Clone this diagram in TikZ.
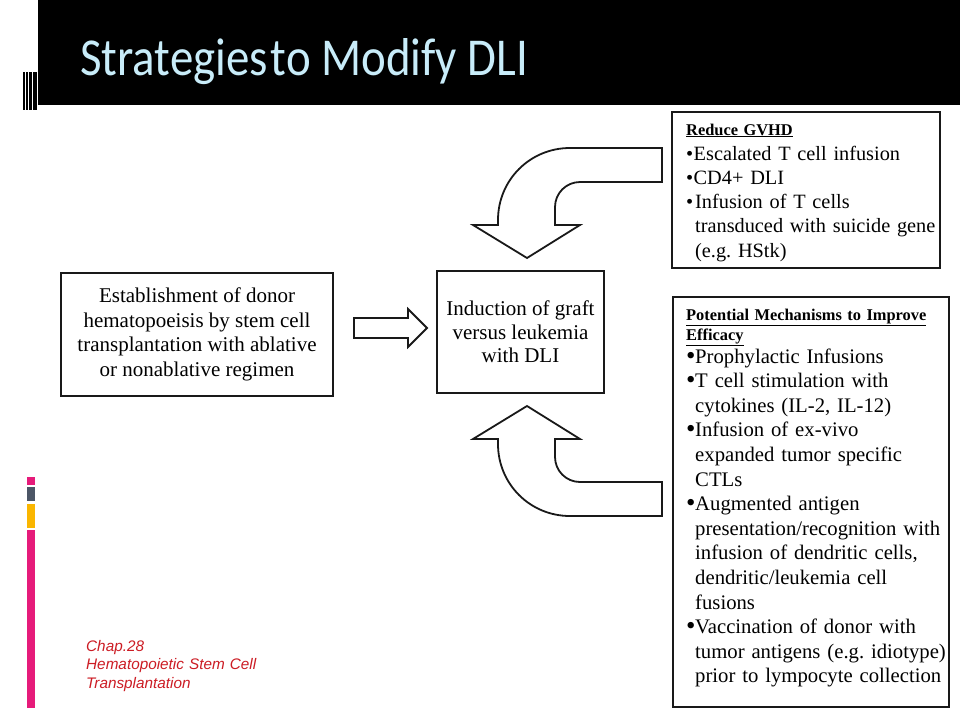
\documentclass[tikz,border=0pt]{standalone}
\usepackage{fontspec}
\usepackage{graphicx}
\setmainfont{Liberation Serif}
\newfontfamily\carlitofont{Carlito}
\newfontfamily\footfont{Liberation Sans}
\definecolor{titleblue}{RGB}{200,236,249}
\definecolor{footred}{RGB}{204,28,36}
\definecolor{barpink}{RGB}{230,27,122}
\definecolor{bargray}{RGB}{76,86,102}
\definecolor{baryellow}{RGB}{250,182,0}
\definecolor{boxline}{RGB}{25,25,25}
\newcommand{\smbul}[1]{\makebox[#1][l]{\textbullet}}
\newcommand{\bgbul}{\makebox[9pt][l]{\raisebox{-1pt}{\scalebox{1.3}{\textbullet}}}}
\tikzset{
  box/.style={draw=boxline, line width=2.8pt, inner sep=0pt},
  bodytext/.style={font=\fontsize{21}{24.5}\selectfont},
  headtext/.style={font=\bfseries\fontsize{16.4}{20}\selectfont},
  blockarrow/.style={draw=boxline, line width=1.8pt, fill=white, line join=miter},
  lefttext/.style={anchor=base west, inner sep=0pt, align=left, text width=270pt},
}
\begin{document}
\frenchspacing
\begin{tikzpicture}[x=1pt,y=-1pt]
\useasboundingbox (0,0) rectangle (960,720);
\fill[white] (0,0) rectangle (960,720);
% title bar
\fill[black] (38,0) rectangle (960,105);
\fill[black] (23,72) rectangle (24.5,110);
\fill[black] (26,72) rectangle (27.5,110);
\fill[black] (28.5,72) rectangle (31.5,110);
\fill[black] (33,72) rectangle (37,110);
\node[anchor=base west, inner sep=0pt, text=titleblue] (title) at (80,75)
  {\resizebox{448pt}{37pt}{\carlitofont Strategies\hspace{0.06em}to Modify DLI}};
% side bars
\fill[barpink] (27,477) rectangle (35,485);
\fill[bargray] (27,487) rectangle (35,501);
\fill[baryellow] (27,504) rectangle (35,528);
\fill[barpink] (27,530) rectangle (35,708);
% footer
\node[lefttext, text width=220pt, text=footred,
      font=\footfont\itshape\fontsize{15.3}{18.5}\selectfont] (foot) at (86,651)
  {\frenchspacing Chap.28\\Hematopoietic Stem Cell\\Transplantation};
% left box
\node[box, bodytext, minimum width=272pt, minimum height=123pt, align=center] (estab) at (197,334.5)
  {Establishment of donor\\hematopoeisis by stem cell\\transplantation with ablative\\or nonablative regimen};
% centre box
\node[box, font=\fontsize{21}{23.6}\selectfont, minimum width=167pt, minimum height=122pt, align=center] (gvl) at (520.5,332)
  {Induction of graft\\versus leukemia\\with DLI};
% upper right box
\node[box, minimum width=268pt, minimum height=156pt] (gvhd) at (806,190) {};
\node[lefttext, headtext] (gvhdhead) at (686,135) {\underline{Reduce GVHD}};
\node[lefttext, font=\fontsize{20.3}{24.3}\selectfont] (gvhdbody) at (686,160)
  {\frenchspacing
   \smbul{7.5pt}Escalated T cell infusion\\
   \smbul{7.5pt}CD4+ DLI\\
   \smbul{9pt}Infusion of T cells\\
   \hspace*{9pt}transduced with suicide gene\\
   \hspace*{9pt}(e.g. HStk)};
% lower right box
\node[box, minimum width=276pt, minimum height=410pt] (eff) at (811,502) {};
\node[lefttext, headtext] (effhead) at (686,320)
  {\underline{Potential Mechanisms to Improve}\\\underline{Efficacy}};
\node[lefttext, font=\fontsize{20.7}{24.6}\selectfont] (effbody) at (686,363)
  {\frenchspacing
   \bgbul Prophylactic Infusions\\
   \bgbul T cell stimulation with\\
   \hspace*{9pt}cytokines (IL-2, IL-12)\\
   \bgbul Infusion of ex-vivo\\
   \hspace*{9pt}expanded tumor specific\\
   \hspace*{9pt}CTLs\\
   \bgbul Augmented antigen\\
   \hspace*{9pt}presentation/recognition with\\
   \hspace*{9pt}infusion of dendritic cells,\\
   \hspace*{9pt}dendritic/leukemia cell\\
   \hspace*{9pt}fusions\\
   \bgbul Vaccination of donor with\\
   \hspace*{9pt}tumor antigens (e.g. idiotype)\\
   \hspace*{9pt}prior to lympocyte collection};
% straight block arrow
\draw[blockarrow] (354,318) -- (408,318) -- (408,309) -- (427,328) -- (408,347)
  -- (408,338) -- (354,338) -- cycle;
% upper curved arrow
\draw[blockarrow] (662,148) -- (570,148) .. controls (530,148) and (498,180) .. (498,220)
  -- (498,225) -- (473,225) -- (527,258) -- (580,225) -- (555,225) -- (555,207)
  .. controls (555,193.2) and (566.2,182) .. (580,182) -- (662,182) -- cycle;
% lower curved arrow
\draw[blockarrow] (662,516) -- (570,516) .. controls (530,516) and (498,484) .. (498,444)
  -- (498,439) -- (473,439) -- (527,406) -- (580,439) -- (555,439) -- (555,457)
  .. controls (555,470.8) and (566.2,482) .. (580,482) -- (662,482) -- cycle;
\end{tikzpicture}
\end{document}
